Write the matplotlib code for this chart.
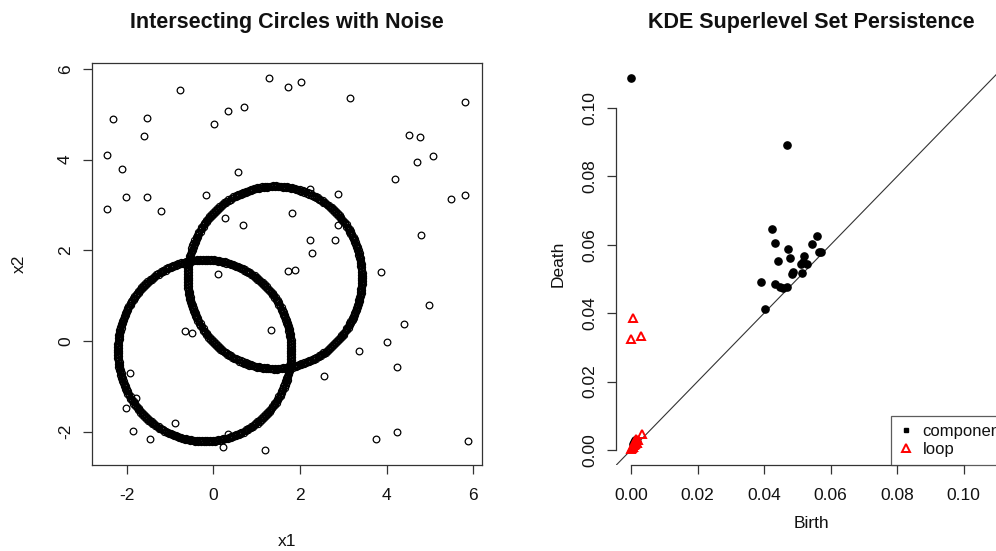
import numpy as np
import matplotlib
matplotlib.use("Agg")
import matplotlib.pyplot as plt
from matplotlib.lines import Line2D

plt.rcParams['font.family'] = ['Liberation Sans', 'DejaVu Sans']

# ---------------- data: left panel ----------------
noise_x = [1.29, 1.73, 2.02, -0.77, 3.16, 5.80, -2.31, -1.52, -1.60, 0.02, 0.35, 0.72,
           -2.46, -2.10, -2.02, -1.52, -2.46, -1.21, 0.58, -0.17, 0.28, 0.69,
           2.23, 2.87, 1.81, 2.87, 2.23, 2.81, 2.27, 4.20, 4.51, 4.78, 4.70, 5.06, 5.48, 5.82, 4.80,
           1.73, 1.88, 3.87, 0.12, 4.98, 4.39, 4.02, 3.36, 4.23, 2.56, 1.34, -0.65, -0.48,
           -1.92, -1.78, -2.02, -0.88, -1.86, -1.46, 0.22, 0.35, 1.20, 3.76, 4.25, 5.87]
noise_y = [5.79, 5.60, 5.71, 5.53, 5.36, 5.26, 4.89, 4.91, 4.52, 4.79, 5.07, 5.16,
           4.10, 3.80, 3.18, 3.18, 2.92, 2.87, 3.72, 3.23, 2.72, 2.55,
           3.35, 3.25, 2.83, 2.55, 2.23, 2.23, 1.93, 3.58, 4.54, 4.49, 3.94, 4.07, 3.13, 3.23, 2.33,
           1.55, 1.56, 1.53, 1.47, 0.79, 0.37, -0.03, -0.23, -0.58, -0.78, 0.24, 0.22, 0.17,
           -0.70, -1.26, -1.47, -1.80, -1.99, -2.17, -2.34, -2.06, -2.40, -2.17, -2.00, -2.20]

circle_cx = [-0.20, 1.42]
circle_cy = [-0.21, 1.40]
circle_r = [2.00, 2.01]
ring_offsets = [-0.02, 0.0, 0.02]

left_xticks = [-2, 0, 2, 4, 6]
left_yticks = [-2, 0, 2, 4, 6]

# ---------------- data: right panel ----------------
comp_birth = [0.0, 0.0468, 0.0424, 0.0434, 0.0472, 0.0560, 0.0543, 0.0570, 0.0566,
              0.0441, 0.0478, 0.0520, 0.0516, 0.0528, 0.0510, 0.0486, 0.0483, 0.0513,
              0.0390, 0.0433, 0.0448, 0.0468, 0.0458, 0.0403,
              0.0005, 0.0010, 0.0013, 0.0017, 0.0008]
comp_death = [0.1087, 0.0892, 0.0645, 0.0605, 0.0588, 0.0626, 0.0601, 0.0580, 0.0578,
              0.0553, 0.0562, 0.0567, 0.0551, 0.0543, 0.0545, 0.0521, 0.0514, 0.0517,
              0.0492, 0.0485, 0.0476, 0.0476, 0.0473, 0.0412,
              0.0018, 0.0024, 0.0028, 0.0022, 0.0012]
loop_birth = [0.0007, 0.0000, 0.0030, 0.0032, 0.0000, 0.0003, 0.0006, 0.0010,
              0.0015, 0.0020, 0.0012, 0.0018, 0.0005, 0.0011, 0.0016]
loop_death = [0.0385, 0.0325, 0.0334, 0.0047, 0.0002, 0.0005, 0.0010, 0.0015,
              0.0022, 0.0030, 0.0016, 0.0021, 0.0009, 0.0026, 0.0031]
right_ticks = [0.00, 0.02, 0.04, 0.06, 0.08, 0.10]
right_ticklabels = ['0.00', '0.02', '0.04', '0.06', '0.08', '0.10']

# ---------------- figure ----------------
W, H = 996, 551
fig = plt.figure(figsize=(W / 100, H / 100), dpi=100)

def px_axes(l, t, r, b):
    return [l / W, (H - b) / H, (r - l) / W, (b - t) / H]

FS = 12.5
TFS = 15.5
ink = '#111111'

# ---- left panel ----
ax1 = fig.add_axes(px_axes(91.7, 63.3, 482.3, 465))
theta = np.linspace(0, 2 * np.pi, 600, endpoint=False)
for cx, cy, r in zip(circle_cx, circle_cy, circle_r):
    for k, off in enumerate(ring_offsets):
        th = theta[k::len(ring_offsets)]
        ax1.plot(cx + (r + off) * np.cos(th), cy + (r + off) * np.sin(th), 'o',
                 mfc='none', mec='black', ms=4.4, mew=0.85, ls='none')
ax1.plot(noise_x, noise_y, 'o', mfc='none', mec='black', ms=4.8, mew=0.9, ls='none')
ax1.set_xlim(-2.806, 6.208)
ax1.set_ylim(-2.734, 6.123)
ax1.set_xticks(left_xticks)
ax1.set_yticks(left_yticks)
ax1.set_xticklabels([str(v) for v in left_xticks])
ax1.set_yticklabels([str(v) for v in left_yticks], rotation=90, va='center')
for s in ax1.spines.values():
    s.set_linewidth(0.9)
    s.set_color('#333333')
ax1.tick_params(direction='out', length=6.5, width=0.9, color='#333333',
                labelsize=FS, labelcolor=ink)
ax1.tick_params(axis='x', pad=10)
ax1.tick_params(axis='y', pad=7)
ax1.set_xlabel('x1', fontsize=FS, color=ink, va='center')
ax1.xaxis.set_label_coords(0.5, (465 - 541) / (465 - 63.3))
ax1.set_ylabel('x2', fontsize=FS, color=ink, va='center')
ax1.yaxis.set_label_coords((19 - 91.7) / (482.3 - 91.7), 0.5)
ax1.text(0.5, (465 - 28.3) / (465 - 63.3), 'Intersecting Circles with Noise',
         transform=ax1.transAxes, ha='center', va='baseline',
         fontsize=TFS, fontweight='bold', color=ink)

# ---- right panel ----
ax2 = fig.add_axes(px_axes(616, 63.5, 1007, 465))
ax2.set_xlim(-0.0045, 0.1130)
ax2.set_ylim(-0.0044, 0.1130)
ax2.axline((0, 0), slope=1, color='#333333', lw=0.8)
ax2.plot(comp_birth, comp_death, 'o', color='black', ms=5.2, ls='none')
ax2.plot(loop_birth, loop_death, '^', mfc='none', mec='#FF0000', ms=6.3, mew=1.4, ls='none')
ax2.spines['top'].set_visible(False)
ax2.spines['right'].set_visible(False)
for side in ['left', 'bottom']:
    ax2.spines[side].set_bounds(0.0, 0.10)
    ax2.spines[side].set_linewidth(0.9)
    ax2.spines[side].set_color('#333333')
ax2.set_xticks(right_ticks)
ax2.set_yticks(right_ticks)
ax2.set_xticklabels(right_ticklabels)
ax2.set_yticklabels(right_ticklabels, rotation=90, va='center')
ax2.tick_params(direction='out', length=6.5, width=0.9, color='#333333',
                labelsize=FS, labelcolor=ink)
ax2.tick_params(axis='x', pad=10)
ax2.tick_params(axis='y', pad=7)
ax2.set_xlabel('Birth', fontsize=FS, color=ink, va='center')
ax2.xaxis.set_label_coords(0.5, (465 - 524) / (465 - 63.5))
ax2.set_ylabel('Death', fontsize=FS, color=ink, va='center')
ax2.yaxis.set_label_coords((558 - 616) / (1007 - 616), 0.5)
ax2.text(0.5, (465 - 28.3) / (465 - 63.5), 'KDE Superlevel Set Persistence',
         transform=ax2.transAxes, ha='center', va='baseline',
         fontsize=TFS, fontweight='bold', color=ink)

handles = [Line2D([], [], marker='s', color='black', ms=3.2, ls='none'),
           Line2D([], [], marker='^', mfc='none', mec='#FF0000', ms=6.3, mew=1.4, ls='none')]
leg = ax2.legend(handles, ['component', 'loop'], loc='lower left',
                 bbox_to_anchor=((891 - 616) / (1007 - 616), 0.0),
                 fontsize=12, frameon=True, fancybox=False, borderpad=0.5,
                 handlelength=0.8, handletextpad=0.6, labelspacing=0.15,
                 borderaxespad=0.0)
leg.get_frame().set_edgecolor('#333333')
leg.get_frame().set_linewidth(0.9)
for t in leg.get_texts():
    t.set_color(ink)

fig.savefig('out.png', dpi=100)
